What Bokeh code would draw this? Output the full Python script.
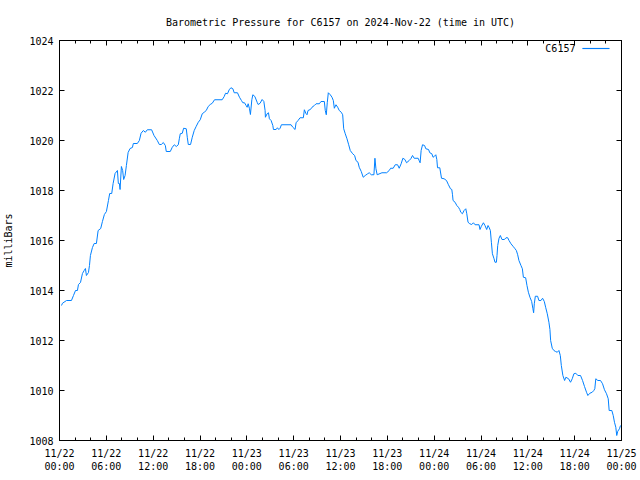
from bokeh.plotting import figure
from bokeh.models import Range1d, FixedTicker, LinearAxis, Label, BoxAnnotation, CustomJSTickFormatter
from bokeh.embed import file_html
from bokeh.resources import INLINE

# hours since 2024-11-22 00:00 UTC
hours = [0.26, 0.38, 0.90, 1.53, 1.79, 2.05, 2.30, 2.43, 2.69, 2.94, 3.16, 3.32, 3.45, 3.71, 3.84, 3.96,
         4.22, 4.44, 4.73, 4.95, 5.28, 5.50, 5.75, 6.01, 6.27, 6.43, 6.69, 6.87, 7.12, 7.42, 7.54, 7.67,
         7.76, 7.93, 8.09, 8.22, 8.40, 8.57, 8.79, 9.04, 9.34, 9.46, 9.97, 10.23, 10.45, 10.74, 11.00,
         11.25, 11.80, 12.11, 12.53, 12.79,
         13.04, 13.30, 13.56, 13.68, 14.19, 14.45, 14.71, 14.96, 15.22, 15.35, 15.47, 15.73, 15.90,
         16.24, 16.37, 16.50, 16.79, 17.01, 17.26, 17.52, 17.78, 18.03, 18.29, 18.54, 18.80, 19.05,
         19.31, 19.57, 19.86, 20.84, 21.10, 21.27, 21.52, 21.74, 21.96, 22.21, 22.38, 22.80, 23.06,
         23.31, 23.49, 23.70, 23.91, 24.04, 24.17, 24.34, 24.46, 24.64, 24.77, 25.03, 25.32, 25.45, 25.70,
         25.96, 26.18, 26.34, 26.38, 26.60, 26.77, 26.89, 27.11, 27.33, 27.41, 27.75, 27.92, 28.10,
         28.26, 28.43, 29.67, 29.89, 30.18, 30.31, 30.56, 30.82, 31.24, 31.37, 31.59, 31.71, 31.84,
         32.14, 32.35, 32.65, 32.87, 33.29, 33.50, 33.93, 34.05, 34.18, 34.31, 34.44, 34.69, 34.91,
         35.08, 35.21, 35.42, 35.64, 35.84, 36.10, 36.28, 36.41, 36.61, 36.83, 37.05, 37.25, 37.56, 37.81,
         37.98, 38.24, 38.40, 38.66, 38.91, 39.17, 39.48, 39.68, 39.94, 40.28, 40.41, 40.54, 40.70,
         41.31, 41.91, 42.24, 42.42, 42.75, 43.01, 43.31, 43.52, 43.77, 43.99, 44.25, 44.46, 44.80,
         45.01, 45.23, 45.44, 45.95, 46.07, 46.20, 46.33, 46.51, 46.77, 46.93, 47.28, 47.44, 47.70,
         47.86, 48.04, 48.21, 48.34, 48.43, 48.72, 48.94, 49.27, 49.58, 49.83, 50.09, 50.26, 50.35,
         50.42, 50.68, 50.90, 51.11, 51.28, 51.41, 51.62, 51.83, 52.05, 52.17, 52.34, 52.56, 52.81,
         53.03, 53.24, 53.75, 53.87, 54.05, 54.31, 54.51, 54.73, 54.90, 55.03, 55.20, 55.33, 55.46,
         55.67, 55.79, 55.97, 56.05, 56.14, 56.31, 56.48, 56.69, 57.00, 57.20, 57.42, 57.59, 57.84,
         58.10, 58.31, 58.53, 58.70, 58.86, 59.12, 59.30, 59.43, 59.72, 59.89, 60.07, 60.27, 60.49,
         60.65, 60.74, 60.83, 60.96, 61.25, 61.42, 61.68, 61.89, 62.11, 62.28, 62.49, 62.70, 62.83,
         62.92, 63.13, 63.34, 63.56, 63.77, 63.98, 64.16, 64.29, 64.49, 64.71, 64.87, 65.22, 65.47,
         65.69, 65.90, 66.15, 66.41, 66.75, 67.01, 67.26, 67.52, 67.69, 67.94, 68.25, 68.45, 68.58,
         68.71, 68.97, 69.31, 69.57, 69.82, 70.08, 70.30, 70.42, 70.76, 70.94, 71.10, 71.27, 71.39,
         71.52, 71.74, 71.87]

pressure = [1013.40, 1013.49, 1013.60, 1013.60, 1013.80, 1014.00, 1014.00, 1014.24, 1014.32, 1014.68,
            1014.80, 1014.88, 1014.60, 1014.72, 1015.00, 1015.40, 1015.72, 1015.88, 1015.88, 1016.40,
            1016.48, 1016.76, 1017.04, 1017.16, 1017.60, 1017.88, 1017.88, 1018.28, 1018.68, 1018.80,
            1018.28, 1018.28, 1018.04, 1018.96, 1018.80, 1018.44, 1018.60, 1019.00, 1019.52, 1019.68,
            1019.72, 1019.88, 1019.88, 1020.00, 1020.29, 1020.40, 1020.33, 1020.43, 1020.43, 1020.20,
            1020.00, 1019.84,
            1019.84, 1019.92, 1019.80, 1019.56, 1019.56, 1019.73, 1019.83, 1019.76, 1019.83, 1020.07,
            1020.27, 1020.29, 1020.49, 1020.47, 1020.13, 1019.84, 1019.84, 1020.13, 1020.40, 1020.57,
            1020.73, 1020.83, 1021.07, 1021.13, 1021.20, 1021.36, 1021.44, 1021.49, 1021.63, 1021.63,
            1021.76, 1021.89, 1021.87, 1022.03, 1022.11, 1022.07, 1021.91, 1021.91, 1021.73, 1021.60,
            1021.51, 1021.51, 1021.40, 1021.33, 1021.47, 1021.27, 1021.04, 1021.63, 1021.83, 1021.76,
            1021.53, 1021.44, 1021.49,
            1021.64, 1021.56, 1021.20, 1020.93, 1021.07, 1021.11, 1020.87, 1020.80, 1020.60, 1020.44,
            1020.44, 1020.51, 1020.44, 1020.49, 1020.63, 1020.63, 1020.53, 1020.44, 1020.71, 1020.80,
            1020.91, 1020.91, 1021.23, 1021.07, 1021.03, 1021.20, 1021.24, 1021.33, 1021.40, 1021.47,
            1021.47, 1021.56, 1021.56, 1021.20, 1021.03, 1021.53, 1021.91, 1021.83, 1021.73, 1021.60,
            1021.29, 1021.43, 1021.33, 1021.20, 1021.13, 1021.03, 1020.47, 1020.27, 1020.07, 1019.83,
            1019.60, 1019.47, 1019.40,
            1019.20, 1019.13, 1018.93, 1018.76, 1018.53, 1018.60, 1018.67, 1018.71, 1018.63, 1018.63,
            1019.29, 1018.87, 1018.63, 1018.71, 1018.71, 1018.80, 1018.89, 1018.89, 1019.03, 1019.03,
            1018.89, 1019.07, 1019.29, 1019.24, 1019.11, 1019.20, 1019.27, 1019.40, 1019.29, 1019.29,
            1019.20, 1019.11, 1019.60, 1019.83, 1019.80, 1019.67, 1019.64, 1019.51, 1019.47, 1019.33,
            1019.37, 1019.43, 1019.24, 1018.91, 1018.91, 1018.49, 1018.47, 1018.40, 1018.23, 1018.07,
            1018.04, 1017.83, 1017.60, 1017.53, 1017.40, 1017.33, 1017.24, 1017.13, 1017.07, 1017.20,
            1017.27, 1017.09, 1016.73, 1016.67, 1016.64, 1016.71, 1016.63, 1016.63, 1016.44, 1016.57,
            1016.71, 1016.60, 1016.44, 1016.60, 1016.53, 1016.40, 1015.93, 1015.47, 1015.27, 1015.13,
            1015.13, 1015.40, 1015.80, 1016.09, 1016.20, 1016.04, 1016.04, 1016.11, 1016.11, 1016.00,
            1015.87, 1015.77, 1015.69, 1015.60, 1015.43, 1015.20, 1015.00, 1014.87, 1014.53, 1014.51,
            1014.20, 1013.93, 1013.73, 1013.56, 1013.27, 1013.11, 1013.47, 1013.77, 1013.77, 1013.60,
            1013.60, 1013.69, 1013.56, 1013.33, 1013.07, 1012.73, 1012.44, 1012.00, 1011.69, 1011.60,
            1011.56, 1011.53, 1011.60, 1011.40, 1011.00, 1010.60, 1010.40, 1010.53, 1010.47, 1010.33,
            1010.47, 1010.67, 1010.69, 1010.60, 1010.60, 1010.40, 1010.16, 1009.93, 1009.80, 1009.89,
            1009.93, 1010.00, 1010.07, 1010.47, 1010.40, 1010.40, 1010.27, 1010.03, 1009.87, 1009.67,
            1009.20, 1009.20, 1009.00, 1008.73, 1008.53, 1008.20, 1008.37, 1008.47, 1008.60]

x_tick_hours = [0, 6, 12, 18, 24, 30, 36, 42, 48, 54, 60, 66, 72]
x_tick_labels = ["11/22\n00:00", "11/22\n06:00", "11/22\n12:00", "11/22\n18:00",
                 "11/23\n00:00", "11/23\n06:00", "11/23\n12:00", "11/23\n18:00",
                 "11/24\n00:00", "11/24\n06:00", "11/24\n12:00", "11/24\n18:00",
                 "11/25\n00:00"]
x_minor_hours = list(range(0, 73, 2))
y_ticks = [1008, 1010, 1012, 1014, 1016, 1018, 1020, 1022, 1024]

FONT = "DejaVu Sans Mono"
FS = "10px"
LINE_COLOR = "#0080ff"

p = figure(width=640, height=480, x_range=Range1d(0, 72), y_range=Range1d(1008, 1024),
           output_backend="svg", toolbar_location=None,
           min_border_left=58, min_border_right=19, min_border_top=40, min_border_bottom=40,
           background_fill_color="white", border_fill_color="white")

p.line(hours, pressure, line_color=LINE_COLOR, line_width=1)

p.xgrid.visible = False
p.ygrid.visible = False
p.outline_line_color = "black"
p.outline_line_width = 1
p.outline_line_alpha = 1

p.title.text = "Barometric Pressure for C6157 on 2024-Nov-22 (time in UTC)"
p.title.align = "center"
p.title.text_font = FONT
p.title.text_font_size = FS
p.title.text_font_style = "normal"
p.title.text_color = "black"
p.title.standoff = 25

def style_axis(ax, ticker, show_labels):
    ax.ticker = ticker
    ax.axis_line_color = "black"
    ax.major_tick_in = 5
    ax.major_tick_out = 0
    ax.minor_tick_in = 3
    ax.minor_tick_out = 0
    ax.major_tick_line_color = "black"
    ax.minor_tick_line_color = "black"
    ax.major_label_text_font = FONT
    ax.major_label_text_font_size = FS
    ax.major_label_text_color = "black"
    if not show_labels:
        ax.formatter = CustomJSTickFormatter(code="return ''")
        ax.major_label_text_font_size = "0px"
        ax.major_label_standoff = 0

xt = FixedTicker(ticks=x_tick_hours, minor_ticks=x_minor_hours)
yt = FixedTicker(ticks=y_ticks, minor_ticks=[])

style_axis(p.xaxis[0], xt, True)
p.xaxis[0].major_label_overrides = dict(zip(x_tick_hours, x_tick_labels))
p.xaxis[0].major_label_standoff = 7

style_axis(p.yaxis[0], yt, True)
p.yaxis[0].major_label_standoff = 6
p.yaxis[0].axis_label = "milliBars"
p.yaxis[0].axis_label_text_font = FONT
p.yaxis[0].axis_label_text_font_size = FS
p.yaxis[0].axis_label_text_font_style = "normal"
p.yaxis[0].axis_label_text_color = "black"
p.yaxis[0].axis_label_standoff = 12

top_ax = LinearAxis()
style_axis(top_ax, FixedTicker(ticks=x_tick_hours, minor_ticks=x_minor_hours), False)
p.add_layout(top_ax, "above")
right_ax = LinearAxis()
style_axis(right_ax, FixedTicker(ticks=y_ticks, minor_ticks=[]), False)
p.add_layout(right_ax, "right")

# legend (gnuplot style: label then line sample)
p.add_layout(Label(x=66.1, y=1023.68, text="C6157", text_align="right", text_baseline="middle",
                   text_font=FONT, text_font_size=FS, text_font_style="normal", text_color="black"))
p.add_layout(BoxAnnotation(left=67.0, right=70.45, bottom=1023.66, top=1023.70,
                           fill_color=LINE_COLOR, fill_alpha=1, line_color=LINE_COLOR, line_width=0.5))

open("out.html", "w").write(file_html(p, INLINE))
